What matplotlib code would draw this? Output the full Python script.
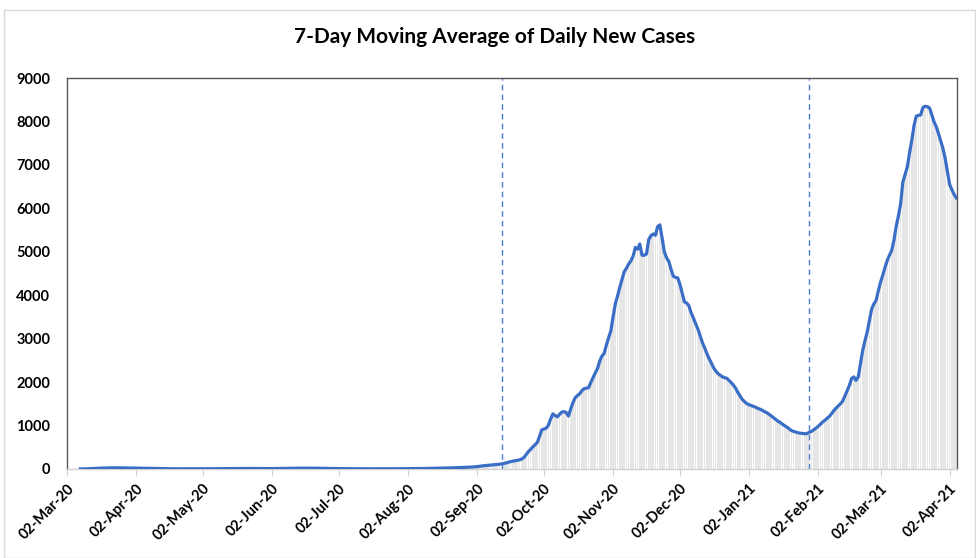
import numpy as np
import pandas as pd
import matplotlib
matplotlib.use("Agg")
import matplotlib.pyplot as plt
import matplotlib.dates as mdates
from matplotlib.patches import Rectangle

plt.rcParams['font.family'] = ['Lato', 'DejaVu Sans']

# 7-day moving average of daily new cases, one value per day from 08-Mar-2020
start_date = "2020-03-08"
cases_mar_apr = [1, 2, 3, 5, 7, 10, 13, 16, 18, 20, 22, 24, 25, 26, 27, 27, 28, 28, 27, 26, 25, 24, 22, 20, 19,
                 18, 17, 16, 15, 14, 13, 12, 11, 10, 9, 8, 8, 7, 7, 6, 6, 5, 5, 5, 4, 4, 4, 3, 3, 3, 3, 3, 3, 3, 3]
cases_may_jun = [4, 4, 5, 5, 6, 6, 7, 7, 8, 8, 8, 9, 9, 10, 10, 11, 11, 12, 12, 12, 13, 13, 13, 12, 12, 11, 11, 10, 10, 9, 9,
                 9, 10, 11, 12, 13, 14, 15, 16, 17, 18, 18, 19, 19, 20, 20, 21, 21, 20, 20, 19, 18, 17, 16, 15, 14, 13, 12, 11, 10, 10]
cases_jul_aug = [9, 9, 8, 8, 8, 7, 7, 7, 6, 6, 6, 6, 6, 5, 5, 5, 5, 5, 5, 5, 5, 5, 6, 6, 6, 6, 7, 7, 7, 7, 8,
                 8, 9, 9, 10, 10, 11, 11, 12, 12, 13, 14, 15, 16, 17, 18, 19, 20, 21, 22, 24, 26, 28, 30, 32, 34, 36, 38, 40, 43, 46, 50]
cases_sep_oct = [55, 62, 70, 75, 80, 85, 90, 95, 100, 105, 110, 118, 128, 140, 155, 170,
                 180, 190, 200, 210, 230, 265, 330, 400, 450, 510, 560, 610, 750, 900, 920, 940, 1010,
                 1150, 1270, 1230, 1200, 1260, 1310, 1320, 1300, 1220, 1380, 1530, 1640, 1690, 1730,
                 1800, 1850, 1860, 1870, 1990, 2100, 2210, 2310, 2480, 2600, 2660, 2850, 3020, 3180]
cases_nov_dec = [3500, 3800, 3980, 4180, 4360, 4540,
                 4620, 4720, 4790, 4900, 5100, 5060, 5180, 4920, 4920, 4950, 5280, 5370, 5410, 5380, 5580, 5620,
                 5320, 5000, 4860, 4780,
                 4600, 4440, 4410, 4400, 4250, 4050, 3850, 3820, 3760, 3600, 3480, 3350, 3230, 3080, 2920, 2800,
                 2670, 2550, 2450, 2340,
                 2260, 2200, 2160, 2125, 2100, 2090, 2040, 1990, 1930, 1860, 1760, 1680, 1600, 1550, 1505]
cases_jan_feb = [1480, 1460, 1440, 1420, 1395,
                 1375, 1350, 1320, 1295, 1260, 1220, 1180, 1140, 1100, 1070, 1030, 995, 965, 925, 885, 865, 850,
                 835, 825, 818, 812, 815, 845,
                 865, 900, 940, 980, 1030, 1080, 1120, 1165, 1210, 1270, 1340, 1400, 1450, 1500, 1560, 1680, 1800,
                 1920, 2080, 2120, 2040, 2120, 2420, 2730, 2950, 3150, 3420]
cases_mar_apr21 = [3680, 3800, 3880, 4100, 4300, 4460, 4640, 4800, 4920, 5030,
                   5260, 5580, 5820, 6100, 6600, 6780, 6950, 7270, 7560, 7900, 8120, 8140, 8150, 8320, 8350,
                   8340, 8310, 8150, 7990, 7880, 7720, 7550, 7380, 7150, 6850, 6550, 6430, 6320, 6240]

avg_cases = (cases_mar_apr + cases_may_jun + cases_jul_aug + cases_sep_oct
             + cases_nov_dec + cases_jan_feb + cases_mar_apr21)
marker_dates = ["2020-09-13", "2021-01-29"]

dates = pd.date_range(start_date, periods=len(avg_cases), freq="D")
tick_dates = pd.date_range("2020-03-01", "2021-04-01", freq="MS") + pd.Timedelta(days=1)

fig = plt.figure(figsize=(9.76, 5.58), dpi=100)
ax = fig.add_axes([0.0686, 0.1595, 0.912, 0.7007])

ax.bar(dates, avg_cases, width=0.75, color="#e6e6e6", linewidth=0, zorder=1)
ax.plot(dates, avg_cases, color="#3a6ec6", linewidth=2.3, zorder=3)
for d in marker_dates:
    ax.axvline(pd.Timestamp(d), color="#4a7fd6", linewidth=1.0, linestyle=(0, (4, 3)), zorder=2)

ax.set_ylim(0, 9000)
ax.set_yticks(np.arange(0, 9001, 1000))
ax.set_xlim(pd.Timestamp("2020-03-02"), dates[-1] + pd.Timedelta(hours=8))
ax.set_xticks(tick_dates)
ax.xaxis.set_major_formatter(mdates.DateFormatter("%d-%b-%y"))

for lab in ax.get_xticklabels():
    lab.set_rotation(45)
    lab.set_ha("right")
    lab.set_rotation_mode("anchor")
    lab.set_fontweight("bold")
    lab.set_fontsize(10.5)
for lab in ax.get_yticklabels():
    lab.set_fontweight("bold")
    lab.set_fontsize(10.5)

ax.tick_params(axis="y", length=0, pad=12)
ax.tick_params(axis="x", length=5, color="#d0d0d0", pad=4)
for s in ["left", "top", "right"]:
    ax.spines[s].set_color("#595959")
    ax.spines[s].set_linewidth(1.0)
ax.spines["bottom"].set_color("#d0d0d0")
ax.spines["bottom"].set_linewidth(1.0)

fig.text(0.507, 1 - 37 / 558, "7-Day Moving Average of Daily New Cases",
         ha="center", va="center", fontsize=15, fontweight="bold")

fig.patches.append(Rectangle((0.004, 0.0), 0.995, 0.982, transform=fig.transFigure,
                             fill=False, edgecolor="#d9d9d9", linewidth=1.0))

fig.savefig("out.png", dpi=100)
